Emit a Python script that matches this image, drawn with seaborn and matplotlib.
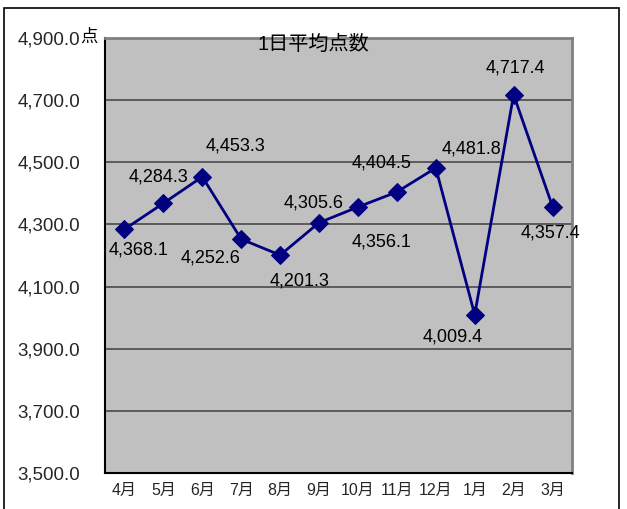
import matplotlib
matplotlib.use("Agg")
import matplotlib.pyplot as plt
import matplotlib.patches as patches
from matplotlib.ticker import FuncFormatter, FixedLocator
import seaborn as sns
import pandas as pd

sns.set_theme(style="white")
plt.rcParams['font.family'] = ['Liberation Sans', 'Noto Sans CJK JP', 'DejaVu Sans']

months = ["4月", "5月", "6月", "7月", "8月", "9月", "10月", "11月", "12月", "1月", "2月", "3月"]
values = [4284.3, 4368.1, 4453.3, 4252.6, 4201.3, 4305.6, 4356.1, 4404.5, 4481.8, 4009.4, 4717.4, 4357.4]
label_texts = ["4,368.1", "4,284.3", "4,453.3", "4,252.6", "4,201.3", "4,305.6",
               "4,356.1", "4,404.5", "4,481.8", "4,009.4", "4,717.4", "4,357.4"]
# label offsets in pixels (dx right, dy up)
label_offsets_px = [(14, -21), (-5, 26), (33, 31), (-31, -19), (19, -26), (-5, 20),
                    (24, -35), (-15, 29), (36, 19), (-22, -22), (2, 27), (-2, -26)]
title = "1日平均点数"
unit = "点"

df = pd.DataFrame({"month": months, "value": values})
df["x"] = range(len(months))

W, H = 627, 509
fig = plt.figure(figsize=(W / 100, H / 100), dpi=100)
fig.patch.set_facecolor("white")
ax = fig.add_axes([105 / W, (H - 473) / H, (572 - 105) / W, (473 - 38) / H])
ax.set_facecolor("#C0C0C0")

sns.lineplot(data=df, x="x", y="value", ax=ax, color="#000080", linewidth=2,
             marker="D", markersize=9, markeredgecolor="#000080", zorder=3)

ax.set_xlim(-0.5, len(months) - 0.5)
ax.set_ylim(3500, 4900)
ax.set_yticks(range(3500, 4901, 200))
ax.yaxis.set_major_formatter(FuncFormatter(lambda v, p: f"{v:,.1f}"))
ax.yaxis.grid(True, color="#4a4a4a", linewidth=1.2)
ax.set_axisbelow(True)
ax.set_xticks(range(len(months)))
ax.set_xticklabels(months, fontsize=11.5)
ax.xaxis.set_minor_locator(FixedLocator([i + 0.5 for i in range(-1, len(months))]))
ax.tick_params(axis="x", which="major", length=0, pad=7)
ax.tick_params(axis="x", which="minor", length=4, direction="in", color="black", width=1)
ax.tick_params(axis="y", which="major", length=4, direction="inout", labelsize=13.5, pad=16, color="black")
ax.set_xlabel("")
ax.set_ylabel("")

for side in ["left", "bottom"]:
    ax.spines[side].set_color("black")
    ax.spines[side].set_linewidth(1.5)
for side in ["top", "right"]:
    ax.spines[side].set_color("#808080")
    ax.spines[side].set_linewidth(2)

for i, (t, (dx, dy)) in enumerate(zip(label_texts, label_offsets_px)):
    ax.annotate(t, (i, values[i]), xytext=(dx * 0.72, dy * 0.72), textcoords="offset points",
                ha="center", va="center", fontsize=13, color="black", zorder=4)

fig.text(313 / W, (H - 44) / H, title, ha="center", va="center", fontsize=14.5, color="black")
fig.text(80 / W, (H - 37) / H, unit, ha="left", va="center", fontsize=12.5, color="black",
         family=['Noto Sans CJK JP', 'DejaVu Sans'])

border = patches.Rectangle((4 / W, -0.02), (619 - 4) / W, (H - 8) / H + 0.02,
                           transform=fig.transFigure, fill=False, edgecolor="black", linewidth=1.2)
fig.patches.append(border)

fig.savefig("out.png", dpi=100)
